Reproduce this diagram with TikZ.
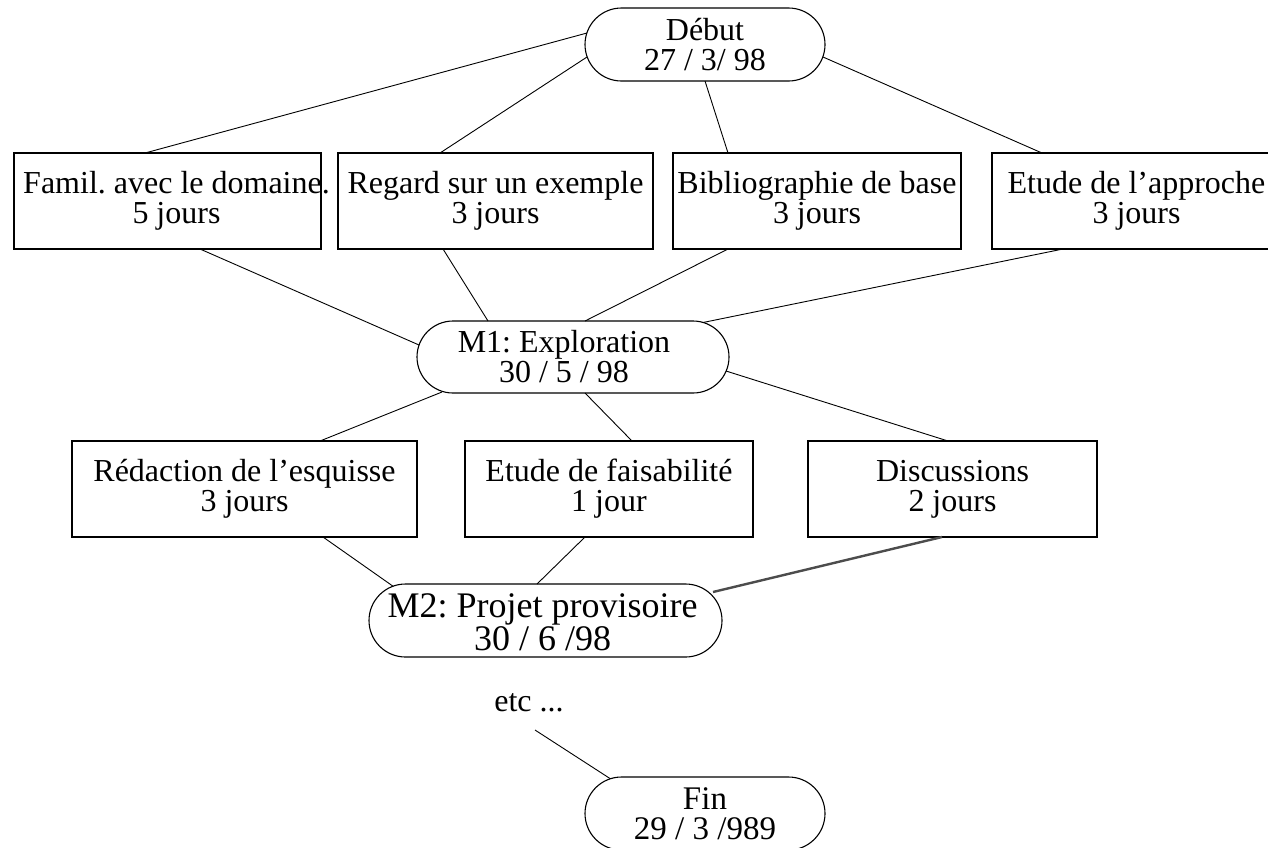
\documentclass[tikz,border=0pt]{standalone}
\usepackage{fontspec}
\setmainfont{Liberation Serif}
\usetikzlibrary{shapes.misc}
\frenchspacing
\begin{document}
\begin{tikzpicture}[x=1pt,y=-1pt,
  every node/.style={font=\fontsize{32}{30}\selectfont\frenchspacing, align=center, inner sep=0pt},
  taskbox/.style={draw, line width=1.1pt, rectangle, minimum height=96pt},
  milestone/.style={draw, line width=1.1pt, rounded rectangle, minimum height=73pt},
  link/.style={line width=0.9pt},
  heavylink/.style={line width=2.4pt, draw=black!70}]
\useasboundingbox (0,0) rectangle (1268,847);

% milestones
\node[milestone, minimum width=240pt] (debut) at (705,44.5) {Début\\27 / 3/ 98};
\node[milestone, minimum width=312pt, minimum height=72pt] (m1) at (573,357) {};
\node (m1t) at (564,357) {M1: Exploration\\30 / 5 / 98};
\node[milestone, minimum width=353pt] (m2) at (545.5,620.5) {};
\node[font=\fontsize{36}{30}\selectfont\frenchspacing] (m2t) at (542.5,622) {M2: Projet provisoire\\30 / 6 /98};
\node[milestone, minimum width=240pt] (fin) at (705,813.5) {};
\node[font=\fontsize{33}{30}\selectfont] (fint) at (705,813.5) {Fin\\29 / 3 /989};
\node (etc) at (529,703) {etc ...};

% first row of tasks
\node[taskbox, minimum width=307pt] (b1) at (167.5,201) {};
\node (b1t) at (176.5,201) {Famil. avec le domaine.\\5 jours};
\node[taskbox, minimum width=315pt] (b2) at (495.5,201) {Regard sur un exemple\\3 jours};
\node[taskbox, minimum width=288pt] (b3) at (817,201) {Bibliographie de base\\3 jours};
\node[taskbox, minimum width=289pt] (b4) at (1136.5,201) {Etude de l’approche\\3 jours};

% second row of tasks
\node[taskbox, minimum width=345pt] (b5) at (244.5,489) {Rédaction de l’esquisse\\3 jours};
\node[taskbox, minimum width=288pt] (b6) at (609,489) {Etude de faisabilité\\1 jour};
\node[taskbox, minimum width=289pt] (b7) at (952.5,489) {Discussions\\2 jours};

% connectors
\draw[link] ([shift={(-118,-11.5)}]debut.center) -- ([shift={(-22.5,-48)}]b1.center);
\draw[link] ([shift={(-118,12.5)}]debut.center) -- ([shift={(-55.5,-48)}]b2.center);
\draw[link] ([shift={(0,36.5)}]debut.center) -- ([shift={(-89,-48)}]b3.center);
\draw[link] ([shift={(118,12.5)}]debut.center) -- ([shift={(-94.5,-48)}]b4.center);

\draw[link] ([shift={(32.5,48)}]b1.center) -- ([shift={(-154,-12)}]m1.center);
\draw[link] ([shift={(-52.5,48)}]b2.center) -- ([shift={(-85,-36)}]m1.center);
\draw[link] ([shift={(-89,48)}]b3.center) -- ([shift={(12,-36)}]m1.center);
\draw[link] ([shift={(-73.5,48)}]b4.center) -- ([shift={(130,-34.5)}]m1.center);

\draw[link] ([shift={(-131,35)}]m1.center) -- ([shift={(75.5,-48)}]b5.center);
\draw[link] ([shift={(12,36)}]m1.center) -- ([shift={(23,-48)}]b6.center);
\draw[link] ([shift={(153,14)}]m1.center) -- ([shift={(-4.5,-48)}]b7.center);

\draw[link] ([shift={(78.5,48)}]b5.center) -- ([shift={(-152.5,-34.3)}]m2.center);
\draw[link] ([shift={(-24,48)}]b6.center) -- ([shift={(-8.5,-36.5)}]m2.center);
\draw[heavylink] ([shift={(-10.5,48)}]b7.center) -- ([shift={(167.5,-28.5)}]m2.center);

\draw[link] ([shift={(6,27)}]etc.center) -- ([shift={(-95,-35)}]fin.center);
\end{tikzpicture}
\end{document}
